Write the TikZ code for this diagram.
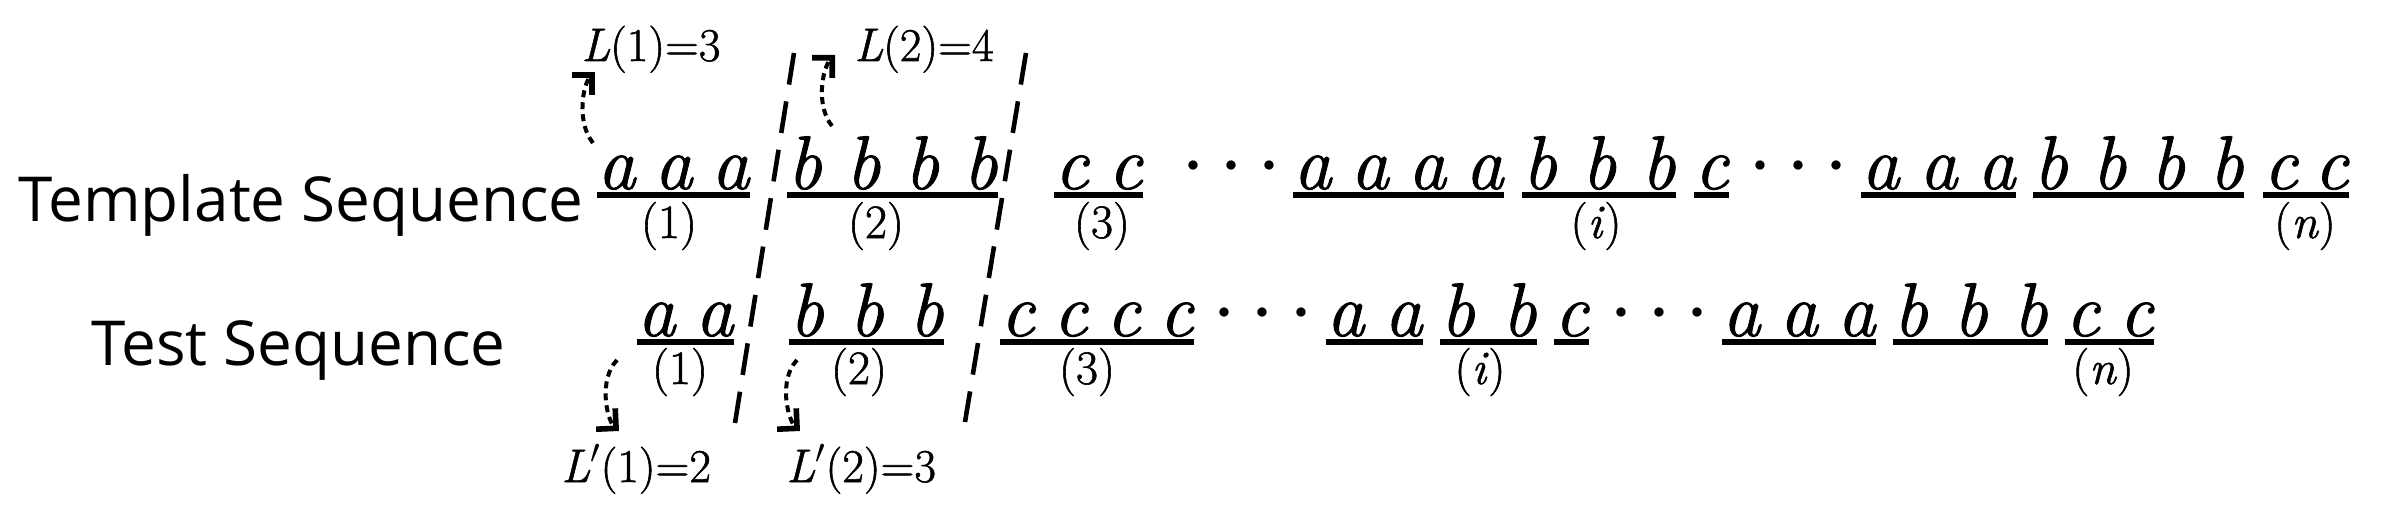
\documentclass[tikz,border=0pt]{standalone}
\usepackage{fontspec}
\newfontfamily\titlefont{Open Sans}
\newfontfamily\seqserif{Latin Modern Roman}[FakeBold=1.2]
\usetikzlibrary{arrows.meta}
\tikzset{
  seqtitle/.style={font=\titlefont\fontsize{31}{36}\selectfont, inner sep=0pt, anchor=base west},
  letters/.style={font=\seqserif\fontsize{38}{44}\selectfont\itshape, inner sep=0pt, anchor=base west},
  idx/.style={font=\seqserif\fontsize{24}{28}\selectfont, inner sep=0pt, anchor=base},
  lenlabel/.style={font=\seqserif\fontsize{23.5}{28}\selectfont, inner sep=0pt, anchor=base west},
  ellipsisdot/.style={font=\fontsize{12.5}{14}\selectfont, inner sep=0pt, anchor=base},
  uline/.style={line width=2.6pt},
  boundary/.style={line width=2.3pt, dash pattern=on 16pt off 8.5pt},
  pointer/.style={line width=2pt, dash pattern=on 3.5pt off 2.5pt,
    -{Straight Barb[angle=90:10pt, sharp, line width=2.8pt]}},
}
\newcommand\grp[5]{%
  \pgfmathsetmacro\grpw{(#3-#2)/2}%
  \node[letters] (#1) at (#2,#4) {\makebox[\grpw pt]{#5}};
  \draw[uline] ([yshift=-3pt]#1.base west) -- ([yshift=-3pt]#1.base east);
}
\begin{document}
\begin{tikzpicture}[x=0.5pt,y=-0.5pt]
\path[use as bounding box] (0,0) rectangle (2390,524);

% titles
\node[seqtitle] (tmpl) at (18,221) {Template Sequence};
\node[seqtitle] (test) at (91,365) {Test Sequence};

% template sequence groups
\grp{t1}{597}{749}{189}{a\hfill a\hfill a}
\grp{t2}{787}{997}{189}{b\hfill b\hfill b\hfill b}
\grp{t3}{1054}{1142}{189}{c\hfill c}
\grp{t4}{1293}{1503}{189}{a\hfill a\hfill a\hfill a}
\grp{t5}{1522}{1675}{189}{b\hfill b\hfill b}
\grp{t6}{1694}{1728}{189}{c}
\grp{t7}{1861}{2015}{189}{a\hfill a\hfill a}
\grp{t8}{2033}{2243}{189}{b\hfill b\hfill b\hfill b}
\grp{t9}{2263}{2348}{189}{c\hfill c}

\node[idx] (ti1) at (669,238) {(1)};
\node[idx] (ti2) at (876,238) {(2)};
\node[idx] (ti3) at (1102,238) {(3)};
\node[idx] (tii) at (1596,238) {(\textit{i})};
\node[idx] (tin) at (2305,238) {(\textit{n})};

\node[ellipsisdot] (td1) at (1193,171) {$\bullet$};
\node[ellipsisdot] (td2) at (1231,171) {$\bullet$};
\node[ellipsisdot] (td3) at (1269,171) {$\bullet$};
\node[ellipsisdot] (td4) at (1760,171) {$\bullet$};
\node[ellipsisdot] (td5) at (1798,171) {$\bullet$};
\node[ellipsisdot] (td6) at (1836,171) {$\bullet$};

% test sequence groups
\grp{b1}{637}{733}{336}{a\hfill a}
\grp{b2}{789}{943}{336}{b\hfill b\hfill b}
\grp{b3}{1000}{1193}{336}{c\hfill c\hfill c\hfill c}
\grp{b4}{1326}{1422}{336}{a\hfill a}
\grp{b5}{1440}{1536}{336}{b\hfill b}
\grp{b6}{1554}{1588}{336}{c}
\grp{b7}{1722}{1875}{336}{a\hfill a\hfill a}
\grp{b8}{1893}{2047}{336}{b\hfill b\hfill b}
\grp{b9}{2065}{2153}{336}{c\hfill c}

\node[idx] (bi1) at (680,384) {(1)};
\node[idx] (bi2) at (859,384) {(2)};
\node[idx] (bi3) at (1087,384) {(3)};
\node[idx] (bii) at (1480,384) {(\textit{i})};
\node[idx] (bin) at (2103,384) {(\textit{n})};

\node[ellipsisdot] (bd1) at (1224,318) {$\bullet$};
\node[ellipsisdot] (bd2) at (1262,318) {$\bullet$};
\node[ellipsisdot] (bd3) at (1301,318) {$\bullet$};
\node[ellipsisdot] (bd4) at (1621,318) {$\bullet$};
\node[ellipsisdot] (bd5) at (1659,318) {$\bullet$};
\node[ellipsisdot] (bd6) at (1697,318) {$\bullet$};

% length labels
\node[lenlabel] (L1) at (581,61) {\textit{L}(1)=3};
\node[lenlabel] (L2) at (854,61) {\textit{L}(2)=4};
\node[lenlabel] (Lp1) at (561,482) {\textit{L}$'$(1)=2};
\node[lenlabel] (Lp2) at (786,482) {\textit{L}$'$(2)=3};

% segment boundaries
\coordinate (s1top) at (794,53);
\coordinate (s1bot) at (735,423);
\coordinate (s2top) at (1026,53);
\coordinate (s2bot) at (965,422);
\draw[boundary] (s1top) -- (s1bot);
\draw[boundary] (s2top) -- (s2bot);

% pointers
\coordinate (p1s) at (593,143);
\coordinate (p1e) at (595,72);
\coordinate (p2s) at (832,126);
\coordinate (p2e) at (835,55);
\coordinate (p3s) at (617,360);
\coordinate (p3e) at (619,431);
\coordinate (p4s) at (797,360);
\coordinate (p4e) at (800,431);
\draw[pointer] (p1s) .. controls (576,122) and (583,84) .. (p1e);
\draw[pointer] (p2s) .. controls (815,105) and (823,67) .. (p2e);
\draw[pointer] (p3s) .. controls (598,380) and (607,420) .. (p3e);
\draw[pointer] (p4s) .. controls (778,380) and (788,420) .. (p4e);
\end{tikzpicture}
\end{document}
